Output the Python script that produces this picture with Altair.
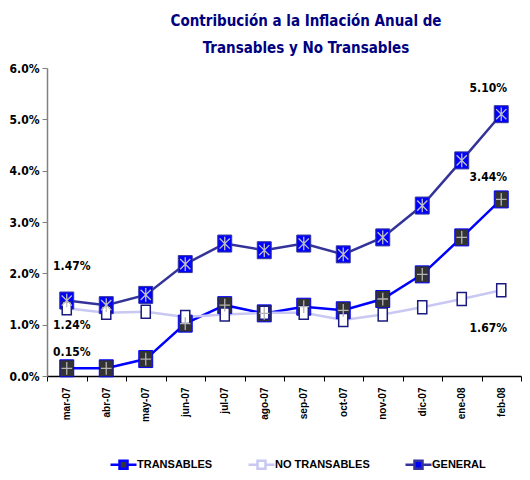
import altair as alt
import pandas as pd

months = ["mar-07", "abr-07", "may-07", "jun-07", "jul-07", "ago-07",
          "sep-07", "oct-07", "nov-07", "dic-07", "ene-08", "feb-08"]
transables = [0.15, 0.15, 0.33, 1.02, 1.38, 1.22, 1.35, 1.28, 1.50, 1.98, 2.70, 3.44]
no_transables = [1.32, 1.23, 1.25, 1.15, 1.20, 1.23, 1.23, 1.09, 1.20, 1.34, 1.50, 1.67]
general = [1.47, 1.38, 1.58, 2.18, 2.58, 2.45, 2.58, 2.37, 2.70, 3.32, 4.20, 5.10]

series_names = ["TRANSABLES", "NO TRANSABLES", "GENERAL"]
line_colors = ["#0000FF", "#C8C8F2", "#333399"]
marker_fills = ["#333333", "#FFFFFF", "#0000FF"]

label_months = ["mar-07", "mar-07", "mar-07", "feb-08", "feb-08", "feb-08"]
label_series = ["GENERAL", "NO TRANSABLES", "TRANSABLES", "GENERAL", "TRANSABLES", "NO TRANSABLES"]
label_texts = ["1.47%", "1.24%", "0.15%", "5.10%", "3.44%", "1.67%"]
label_offsets = [(5, -35), (5, 17), (5, -16), (-13, -26), (-13, -22), (-13, 38)]

NARROW = "'Liberation Sans Narrow', 'Arial Narrow', 'DejaVu Sans Condensed', 'Liberation Sans', sans-serif"
SANS = "'Liberation Sans', Arial, sans-serif"

rows = []
for name, vals in zip(series_names, [transables, no_transables, general]):
    for m, v in zip(months, vals):
        rows.append({"month": m, "series": name, "value": v})
df = pd.DataFrame(rows)

lookup = {(r["month"], r["series"]): r["value"] for r in rows}
lab = pd.DataFrame({
    "month": label_months,
    "series": label_series,
    "text": label_texts,
    "value": [lookup[(m, s)] for m, s in zip(label_months, label_series)],
})

x_enc = alt.X(
    "month:N", sort=months, bandPosition=0.5,
    scale=alt.Scale(type="band", paddingInner=0, paddingOuter=0),
    axis=alt.Axis(title=None, labelAngle=270, labelAlign="right", labelBaseline="middle",
                  labelFont=SANS, labelFontWeight="bold", labelFontSize=10, labelColor="#000",
                  labelPadding=6, tickBand="extent", tickSize=5, tickColor="#000",
                  domainColor="#000", domainWidth=1.5),
)
y_enc = alt.Y(
    "value:Q", scale=alt.Scale(domain=[0, 6]),
    axis=alt.Axis(title=None, values=[0, 1, 2, 3, 4, 5, 6], grid=False,
                  labelExpr="format(datum.value, '.1f') + '%'",
                  labelFont=NARROW, labelFontWeight="bold", labelFontSize=12, labelColor="#000",
                  labelPadding=3, tickSize=5, tickColor="#808080", domainColor="#808080",
                  domainWidth=1.5),
)

stroke_scale = alt.Scale(domain=series_names, range=line_colors)
fill_scale = alt.Scale(domain=series_names, range=marker_fills)

legend = alt.Legend(
    title=None, orient="none", legendX=70, legendY=390, direction="horizontal",
    symbolType="M-2.6,0H-0.8M0.8,0H2.6M-0.8,-0.8H0.8V0.8H-0.8Z",
    symbolSize=100, symbolStrokeWidth=2.5, labelOffset=7, columnPadding=30,
    gridAlign="each",
    labelFont=SANS, labelFontWeight="bold", labelFontSize=11, labelColor="#000",
)

base = alt.Chart(df)

lines = base.mark_line(strokeWidth=2.5).encode(
    x=x_enc, y=y_enc,
    stroke=alt.Stroke("series:N", scale=stroke_scale, legend=legend),
    detail="series:N",
)

square = "M-0.82,-1H0.82V1H-0.82Z"
markers = base.transform_filter(alt.datum.series != "NO TRANSABLES").mark_point(
    shape=square, size=289, filled=True, opacity=1, strokeWidth=1
).encode(
    x=x_enc, y=y_enc,
    fill=alt.Fill("series:N", scale=fill_scale, legend=legend),
    stroke=alt.Stroke("series:N", scale=stroke_scale, legend=legend),
)

nt_markers = base.transform_filter(alt.datum.series == "NO TRANSABLES").mark_point(
    shape="M-0.7,-1H0.7V1H-0.7Z", size=169, filled=False, fill="#FFFFFF",
    stroke="#1a1a80", strokeWidth=1.5, opacity=1
).encode(x=x_enc, y=y_enc)

plus = base.transform_filter(alt.datum.series == "TRANSABLES").mark_point(
    shape="M-0.62,0H0.62M0,-0.75V0.75", size=289, filled=False,
    stroke="#b4b4b4", strokeWidth=1.3, opacity=1
).encode(x=x_enc, y=y_enc)

star = base.transform_filter(alt.datum.series == "GENERAL").mark_point(
    shape="M0,-0.8V0.8M-0.6,-0.6L0.6,0.6M-0.6,0.6L0.6,-0.6", size=289, filled=False,
    stroke="#c0c0c0", strokeWidth=1.3, opacity=1
).encode(x=x_enc, y=y_enc)

texts = []
for t, (dx, dy) in zip(label_texts, label_offsets):
    texts.append(
        alt.Chart(lab).transform_filter(alt.datum.text == t).mark_text(
            dx=dx, dy=dy, font=NARROW, fontWeight="bold", fontSize=12, color="#000",
            align="center", baseline="middle"
        ).encode(x=x_enc, y=y_enc, text="text:N")
    )

chart = alt.layer(lines, markers, nt_markers, plus, star, *texts).properties(
    width=474, height=308,
    padding={"left": 39, "top": 60, "right": 1, "bottom": 96},
    autosize="none",
    title=alt.TitleParams(
        ["Contribución a la Inflación Anual de", "Transables y No Transables"],
        font=NARROW, fontSize=15, fontWeight="bold", color="#000080",
        anchor="middle", dx=22, offset=6, lineHeight=27,
    ),
).configure_view(stroke=None)

chart.save("out.html", embed_options={"renderer": "svg", "actions": False})
